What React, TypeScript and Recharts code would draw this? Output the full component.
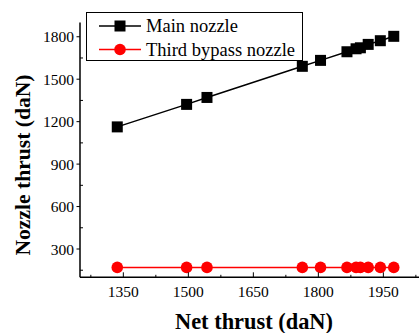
import React from "react"
import { ComposedChart, Line, XAxis, YAxis, Label } from "recharts"

// net thrust (daN) of each operating point
const netThrust = [1336, 1496, 1543, 1763, 1805, 1866, 1887, 1897, 1915, 1943, 1974]
// main nozzle thrust (daN)
const mainNozzle = [1163, 1322, 1371, 1591, 1633, 1694, 1715, 1722, 1746, 1772, 1803]
// third bypass nozzle thrust (daN)
const bypassNozzle = [170, 170, 170, 170, 170, 170, 170, 170, 170, 170, 170]

const xMajor = [1350, 1500, 1650, 1800, 1950]
const xMinor = [1275, 1425, 1575, 1725, 1875, 2025]
const yMajor = [300, 600, 900, 1200, 1500, 1800]
const yMinor = [150, 450, 750, 1050, 1350, 1650]

const data = netThrust.map((x, i) => ({ x, main: mainNozzle[i], bypass: bypassNozzle[i] }))

const FONT = "Liberation Serif, Times New Roman, Times, serif"
const textStyle = { fontFamily: FONT }

const SquareDot = (props: any) => {
  const { cx, cy } = props
  if (cx == null || cy == null) return null
  return <rect x={cx - 5.5} y={cy - 5.5} width={11} height={11} fill="#000" />
}

const CircleDot = (props: any) => {
  const { cx, cy } = props
  if (cx == null || cy == null) return null
  return <circle cx={cx} cy={cy} r={5.8} fill="#ff0000" />
}

const XTick = (props: any) => {
  const { x, y, payload } = props
  const major = xMajor.includes(payload.value)
  return (
    <g>
      <line x1={x} x2={x} y1={y} y2={y - (major ? 5 : 2.5)} stroke="#000" strokeWidth={1} />
      {major && (
        <text x={x} y={y + 14} textAnchor="middle" dominantBaseline="central" style={textStyle} fontSize={15.5} fill="#000">
          {payload.value}
        </text>
      )}
    </g>
  )
}

const YTick = (props: any) => {
  const { x, y, payload } = props
  const major = yMajor.includes(payload.value)
  return (
    <g>
      {major ? (
        <line x1={x - 3.5} x2={x} y1={y} y2={y} stroke="#000" strokeWidth={1} />
      ) : (
        <line x1={x} x2={x + 3} y1={y} y2={y} stroke="#000" strokeWidth={1} />
      )}
      {major && (
        <text x={x - 6} y={y} textAnchor="end" dominantBaseline="central" style={textStyle} fontSize={15.5} fill="#000">
          {payload.value}
        </text>
      )}
    </g>
  )
}

const LegendBox = () => (
  <svg width={218} height={50} style={{ position: "absolute", left: 86, top: 12, display: "block" }}>
    <rect x={0.5} y={0.5} width={216} height={48} fill="#fff" stroke="#000" strokeWidth={1} />
    <line x1={13} x2={55} y1={14} y2={14} stroke="#000" strokeWidth={1.5} />
    <rect x={28.5} y={8.5} width={11} height={11} fill="#000" />
    <text x={60} y={14} dominantBaseline="central" style={textStyle} fontSize={18.5} fill="#000">
      Main nozzle
    </text>
    <line x1={13} x2={55} y1={37.5} y2={37.5} stroke="#ff0000" strokeWidth={1.5} />
    <circle cx={34} cy={37.5} r={5.8} fill="#ff0000" />
    <text x={60} y={37.5} dominantBaseline="central" style={textStyle} fontSize={18.5} fill="#000">
      Third bypass nozzle
    </text>
  </svg>
)

export default function App() {
  return (
    <div style={{ position: "absolute", left: 0, top: 0, width: 419, height: 333, overflow: "hidden", background: "#fff" }}>
      <ComposedChart width={440} height={333} data={data} margin={{ top: 22.6, right: 13.3, bottom: 0, left: 0 }}>
        <XAxis
          dataKey="x"
          type="number"
          domain={[1250, 2050]}
          ticks={[...xMajor, ...xMinor].sort((a, b) => a - b)}
          interval={0}
          height={55.7}
          tickSize={0}
          tickMargin={0}
          tickLine={false}
          tick={<XTick />}
          axisLine={{ stroke: "#000", strokeWidth: 1.5 }}
          allowDataOverflow
        >
          <Label
            content={() => (
              <text x={254} y={321} textAnchor="middle" dominantBaseline="central" style={textStyle} fontSize={22.4} fontWeight="bold" fill="#000">
                Net thrust (daN)
              </text>
            )}
          />
        </XAxis>
        <YAxis
          type="number"
          domain={[100, 1900]}
          ticks={[...yMajor, ...yMinor].sort((a, b) => a - b)}
          interval={0}
          width={80}
          tickSize={0}
          tickMargin={0}
          tickLine={false}
          tick={<YTick />}
          axisLine={{ stroke: "#000", strokeWidth: 1.5 }}
          allowDataOverflow
        >
          <Label
            content={() => (
              <text
                x={23}
                y={165}
                transform="rotate(-90 23 165)"
                textAnchor="middle"
                dominantBaseline="central"
                style={textStyle}
                fontSize={21.6}
                fontWeight="bold"
                fill="#000"
              >
                Nozzle thrust (daN)
              </text>
            )}
          />
        </YAxis>
        <Line dataKey="main" type="linear" stroke="#000" strokeWidth={1.5} dot={<SquareDot />} activeDot={false} isAnimationActive={false} />
        <Line dataKey="bypass" type="linear" stroke="#ff0000" strokeWidth={1.5} dot={<CircleDot />} activeDot={false} isAnimationActive={false} />
      </ComposedChart>
      <LegendBox />
    </div>
  )
}
